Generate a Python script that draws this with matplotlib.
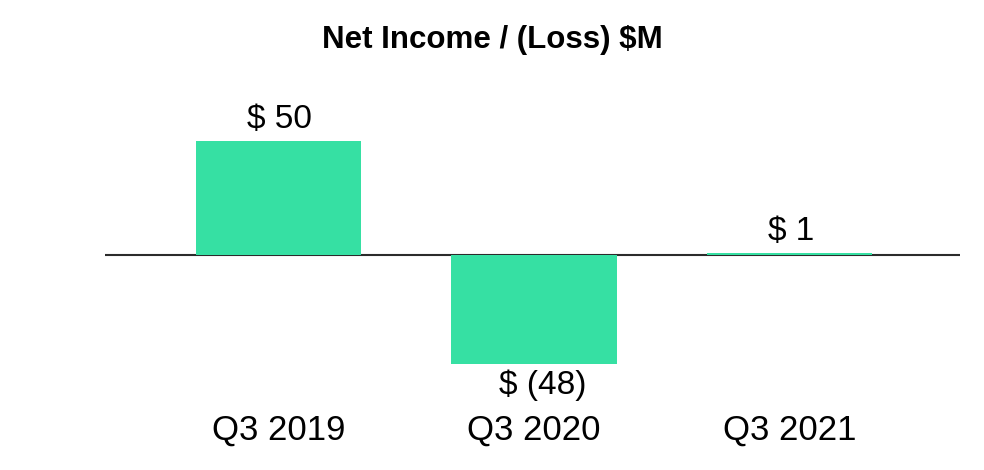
import matplotlib.pyplot as plt

quarters = ['Q3 2019', 'Q3 2020', 'Q3 2021']
net_income = [50, -48, 1]

bar_color = '#36E0A3'
font = 'Liberation Sans'


def fmt(v):
    return '$ ({})'.format(abs(v)) if v < 0 else '$ {}'.format(v)


fig = plt.figure(figsize=(9.84, 4.70), dpi=100)
ax = fig.add_axes([105 / 984, 1 - 400 / 470, 855 / 984, 340 / 470])

xs = list(range(len(quarters)))
ax.axhline(0, color='#2b2b2b', lw=1.5, zorder=1)
ax.bar(xs, net_income, width=0.646, color=bar_color, zorder=2)

for x, v in zip(xs, net_income):
    if v >= 0:
        ax.annotate(fmt(v), (x, v), xytext=(1, 4), textcoords='offset points',
                    ha='center', va='bottom', fontsize=24, family=font)
    else:
        ax.annotate(fmt(v), (x, v), xytext=(6, -4), textcoords='offset points',
                    ha='center', va='top', fontsize=24, family=font)

ax.set_xlim(-0.679, 2.667)
ax.set_ylim(-63.6, 85.5)
ax.set_xticks(xs)
ax.set_xticklabels(quarters, fontsize=25, family=font)
ax.tick_params(axis='x', length=0, pad=10)
ax.set_yticks([])
for s in ax.spines.values():
    s.set_visible(False)

fig.text(492 / 984, 1 - 40 / 470, 'Net Income / (Loss) $M', ha='center', va='center',
         fontsize=22.5, fontweight='bold', family=font)

fig.savefig('out.png', dpi=100)
